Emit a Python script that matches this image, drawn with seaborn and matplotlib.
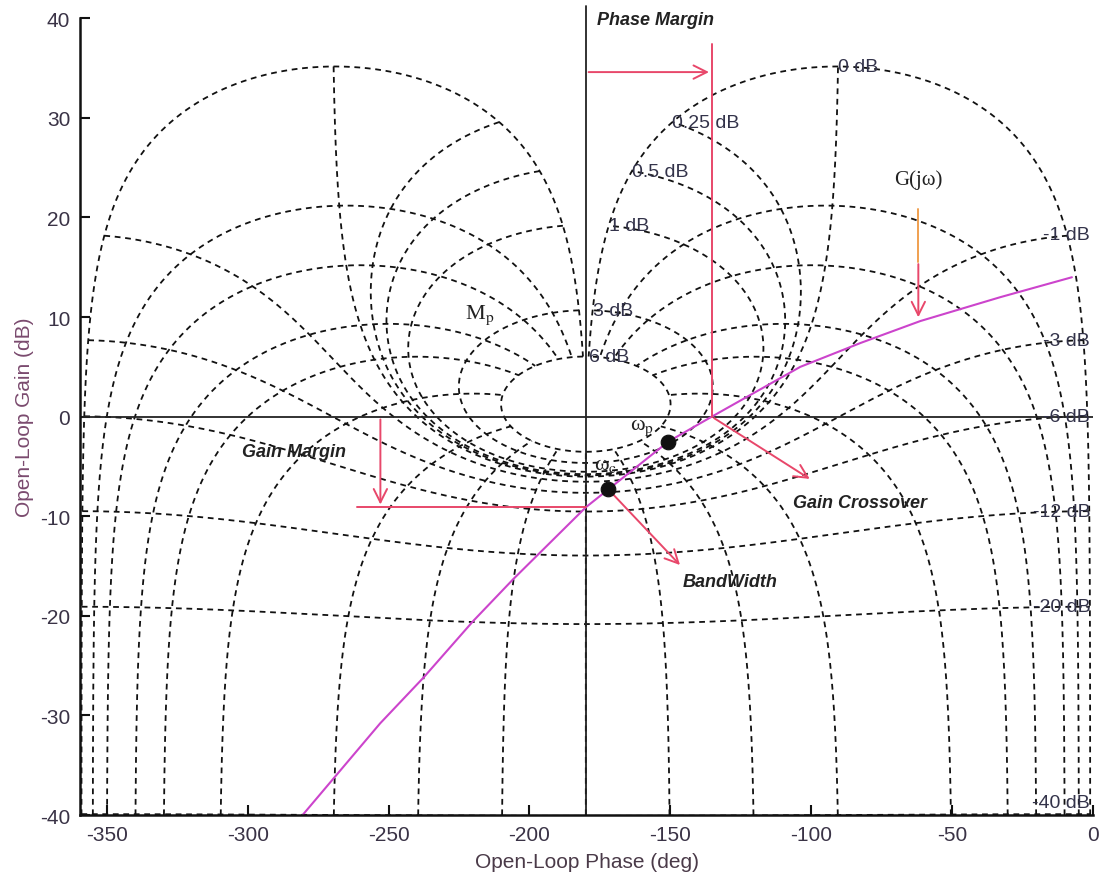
import numpy as np
import matplotlib
matplotlib.use("Agg")
import matplotlib.pyplot as plt
import seaborn as sns


# Nichols grid levels (closed loop gain in dB, closed loop phase in deg)
cl_gain_db = [6, 3, 1, 0.5, 0.25, 0, -1, -3, -6, -12, -20, -40]
cl_phase_deg = [-1, -5, -10, -20, -30, -50, -90, -120, -150, -180,
                -210, -240, -270, -310, -330, -340, -350, -355, -359]

# open loop G(jw)
g_phase = [-280.5, -253.0, -237.6, -219.9, -205.7, -180.0, -172.0, -150.7,
           -135.3, -103.9, -82.5, -61.3, -32.9, -7.5]
g_gain = [-40.0, -30.8, -26.2, -20.5, -16.3, -9.1, -7.3, -2.5,
          0.0, 5.0, 7.4, 9.6, 12.0, 14.0]

# marked frequencies
w_phase = [-150.7, -172.0]
w_gain = [-2.5, -7.3]

crossover_phase = -135.3
gain_margin = 9.1

red = "#e8476a"
grid_ls = (0, (3.2, 2.6))


def open_loop(mag_db, ph_deg):
    # closed loop T -> open loop G = T / (1 - T)
    t = 10 ** (np.asarray(mag_db) / 20.0) * np.exp(1j * np.radians(ph_deg))
    g = t / (1 - t)
    ph = np.degrees(np.angle(g))
    ph = np.where(ph > 0, ph - 360, ph)
    return ph, 20 * np.log10(np.abs(g))


sns.set_theme(style="ticks")
plt.rcParams["font.family"] = ["Liberation Sans", "DejaVu Sans"]
plt.rcParams["mathtext.fontset"] = "stix"
plt.rcParams["axes.unicode_minus"] = False

fig = plt.figure(figsize=(11.08, 8.78), dpi=100)
ax = fig.add_axes([0.0722, 0.0706, 0.9143, 0.9074])

# grid: constant closed loop gain
phi_sweep = np.linspace(-359, -1, 20000)
for m in cl_gain_db:
    ph, g = open_loop(m, phi_sweep)
    ax.plot(ph, g, color="#111111", ls=grid_ls, lw=1.3)

# grid: constant closed loop phase
mag_sweep = np.unique(np.concatenate([np.linspace(-60, 6, 4000),
                                      np.linspace(-1.5, 1.5, 6000)]))
for p in cl_phase_deg:
    ph, g = open_loop(mag_sweep, p)
    ax.plot(ph, g, color="#111111", ls=grid_ls, lw=1.3)

# gain labels
for m in cl_gain_db:
    if m >= 0:
        ph, g = open_loop(m, -1)
        ax.text(float(ph), float(g), f"{m:g} dB", fontsize=14, color="#33334a",
                ha="left", va="center")
    else:
        lin = 10 ** (m / 20.0)
        g = max(20 * np.log10(lin / (1 - lin)), -38.7)
        ax.text(-1, g, f"{m:g} dB", fontsize=14, color="#33334a",
                ha="right", va="center")

# axes lines at -180 deg and 0 dB
ax.plot([-180, -180], [-40, 41.2], color="#222222", lw=1.3, clip_on=False)
ax.axhline(0, color="#222222", lw=1.3)

# open loop curve
sns.lineplot(x=g_phase, y=g_gain, sort=False, color="#cc44cc", lw=1.5, ax=ax)
sns.scatterplot(x=w_phase, y=w_gain, color="#111111", s=110, ax=ax,
                edgecolor="#111111", zorder=5)

arrow = dict(arrowstyle="->", color=red, lw=1.4, mutation_scale=24)

# phase margin
ax.plot([crossover_phase, crossover_phase], [37.4, 0], color=red, lw=1.4)
ax.annotate("", xy=(crossover_phase, 34.6), xytext=(-180, 34.6), arrowprops=arrow)
ax.text(-176, 39.9, "Phase Margin", fontsize=13, fontweight="bold",
        fontstyle="italic", color="#222222", va="center", clip_on=False)

# gain margin
ax.plot([-261.2, -180], [-gain_margin, -gain_margin], color=red, lw=1.4)
ax.annotate("", xy=(-252.9, -gain_margin), xytext=(-252.9, 0), arrowprops=arrow)
ax.text(-302, -3.5, "Gain Margin", fontsize=13, fontweight="bold",
        fontstyle="italic", color="#222222", va="center")

# gain crossover / bandwidth
ax.annotate("", xy=(-99.7, -6.4), xytext=(crossover_phase, 0), arrowprops=arrow)
ax.text(-106.4, -8.6, "Gain Crossover", fontsize=13, fontweight="bold",
        fontstyle="italic", color="#222222", va="center")
ax.annotate("", xy=(-145.9, -15.1), xytext=(w_phase[1], w_gain[1]), arrowprops=arrow)
ax.text(-145.5, -16.6, "BandWidth", fontsize=13, fontweight="bold",
        fontstyle="italic", color="#222222", va="center")

# G(jw) pointer
ax.plot([-62, -62], [20.9, 15.5], color="#f0a050", lw=1.4)
ax.annotate("", xy=(-62, 9.7), xytext=(-62, 15.6), arrowprops=arrow)

serif = ["Liberation Serif", "DejaVu Serif"]
ax.text(-62, 23.9, "G(jω)", fontsize=15, family=serif,
        color="#222222", ha="center", va="center")
ax.text(-223, 10.3, "M$_{\\rm p}$", fontsize=16, family=serif, color="#222222", va="center")
ax.text(-164.3, -1.0, "ω$_{\\rm p}$", fontsize=16, family=serif, color="#222222", va="center")
ax.text(-177, -4.8, "ω$_{\\rm c}$", fontsize=16, family=serif, color="#222222", va="center")

ax.set_xlim(-359.5, 0)
ax.set_ylim(-40, 40)
ax.set_xticks(range(-350, 1, 50))
ax.set_yticks(range(-40, 41, 10))
ax.tick_params(direction="in", length=7, width=1.5, labelsize=15,
               labelcolor="#3a3346", color="#111111", pad=7)
for s in ["left", "bottom"]:
    ax.spines[s].set_linewidth(1.8)
    ax.spines[s].set_color("#111111")
sns.despine(ax=ax)

ax.set_xlabel("Open-Loop Phase (deg)", fontsize=15, color="#4a3a48", labelpad=6)
ax.set_ylabel("Open-Loop Gain (dB)", fontsize=15, color="#7a4a6e", labelpad=4)

fig.savefig("out.png", dpi=100)
